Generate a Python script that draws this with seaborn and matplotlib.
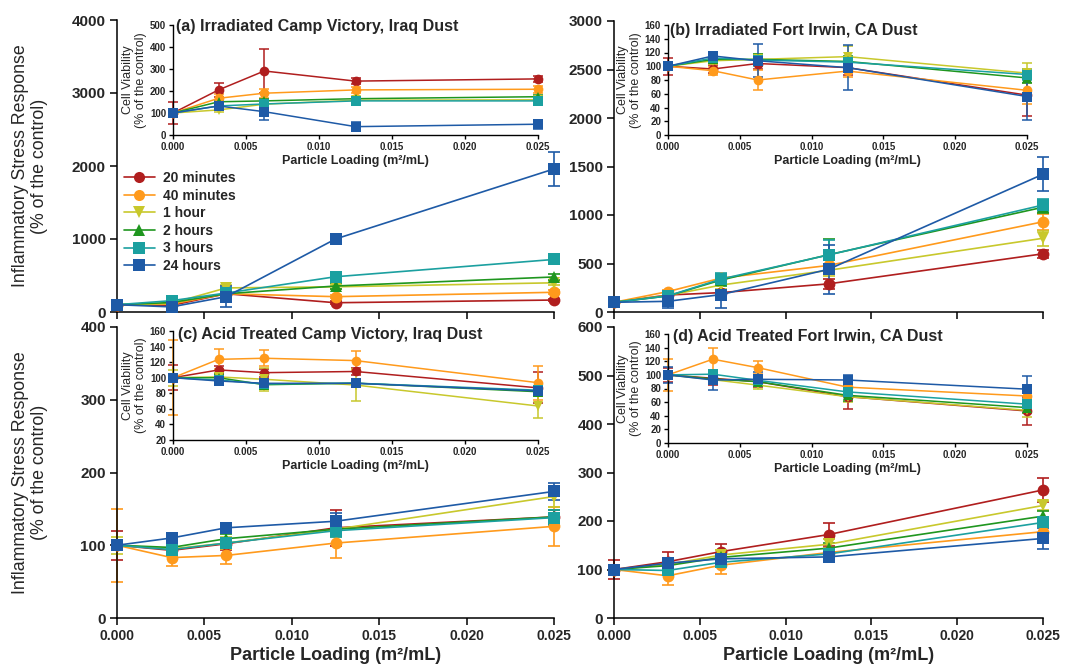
import numpy as np
import pandas as pd
import matplotlib
matplotlib.use("Agg")
import matplotlib.pyplot as plt
from matplotlib.lines import Line2D
import seaborn as sns

sns.set_style("ticks")
plt.rcParams['font.family'] = ['Liberation Sans', 'DejaVu Sans']

# ---------------- data ----------------
LOADING = [0.0, 0.003125, 0.00625, 0.0125, 0.025]
SERIES = ["20 minutes", "40 minutes", "1 hour", "2 hours", "3 hours", "24 hours"]
COLORS = ["#B01E1E", "#FF9A1C", "#C8C82C", "#1F961F", "#1BA0A0", "#1E5AA6"]
MARKERS = ["o", "o", "v", "^", "s", "s"]

# (a) Irradiated Camp Victory - inflammatory stress response
A_MAIN = {
    "20 minutes": [100, 90, 250, 127, 164],
    "40 minutes": [100, 110, 250, 210, 270],
    "1 hour":     [100, 120, 330, 345, 400],
    "2 hours":    [100, 130, 250, 356, 480],
    "3 hours":    [100, 155, 260, 483, 720],
    "24 hours":   [100, 70, 210, 1000, 1960],
}
A_MAIN_ERR = {
    "20 minutes": [20, 15, 30, 20, 20],
    "40 minutes": [20, 15, 30, 25, 25],
    "1 hour":     [20, 15, 40, 30, 30],
    "2 hours":    [20, 20, 30, 40, 35],
    "3 hours":    [20, 25, 40, 70, 50],
    "24 hours":   [20, 30, 140, 50, 230],
}
A_INSET = {
    "20 minutes": [100, 205, 291, 245, 255],
    "40 minutes": [100, 167, 190, 205, 208],
    "1 hour":     [100, 114, 140, 158, 160],
    "2 hours":    [100, 151, 155, 165, 174],
    "3 hours":    [100, 132, 141, 155, 155],
    "24 hours":   [100, 132, 106, 38, 49],
}
A_INSET_ERR = {
    "20 minutes": [50, 30, 100, 15, 15],
    "40 minutes": [10, 20, 20, 15, 15],
    "1 hour":     [10, 10, 15, 10, 10],
    "2 hours":    [10, 10, 10, 10, 10],
    "3 hours":    [10, 10, 10, 10, 10],
    "24 hours":   [10, 10, 37, 20, 20],
}

# (b) Irradiated Fort Irwin
B_MAIN = {
    "20 minutes": [100, 175, 200, 290, 600],
    "40 minutes": [100, 210, 350, 480, 930],
    "1 hour":     [100, 170, 278, 430, 760],
    "2 hours":    [100, 165, 330, 590, 1080],
    "3 hours":    [100, 165, 340, 588, 1103],
    "24 hours":   [100, 110, 180, 440, 1420],
}
B_MAIN_ERR = {
    "20 minutes": [15, 20, 30, 50, 40],
    "40 minutes": [15, 20, 40, 60, 80],
    "1 hour":     [15, 20, 40, 60, 80],
    "2 hours":    [15, 20, 60, 160, 60],
    "3 hours":    [15, 20, 60, 150, 60],
    "24 hours":   [15, 70, 140, 250, 175],
}
B_INSET = {
    "20 minutes": [100, 96, 104, 98, 58],
    "40 minutes": [100, 93.5, 80, 93, 65],
    "1 hour":     [100, 108, 110, 114, 90],
    "2 hours":    [100, 110, 110, 107, 83],
    "3 hours":    [100, 112, 109, 106, 88],
    "24 hours":   [100, 115, 108, 98, 56],
}
B_INSET_ERR = {
    "20 minutes": [12, 6, 8, 10, 30],
    "40 minutes": [5, 6, 15, 8, 20],
    "1 hour":     [5, 5, 8, 15, 15],
    "2 hours":    [5, 5, 8, 8, 8],
    "3 hours":    [5, 5, 8, 8, 8],
    "24 hours":   [5, 5, 24, 33, 34],
}

# (c) Acid Treated Camp Victory
C_MAIN = {
    "20 minutes": [100, 93, 102, 124, 139],
    "40 minutes": [100, 83, 86, 103, 126],
    "1 hour":     [100, 95, 103, 122, 167],
    "2 hours":    [100, 97, 109, 122, 139],
    "3 hours":    [100, 94, 103, 120, 138],
    "24 hours":   [100, 110, 124, 133, 174],
}
C_MAIN_ERR = {
    "20 minutes": [20, 8, 8, 25, 10],
    "40 minutes": [50, 12, 12, 20, 27],
    "1 hour":     [12, 6, 8, 10, 15],
    "2 hours":    [5, 5, 6, 8, 10],
    "3 hours":    [5, 5, 6, 8, 10],
    "24 hours":   [5, 6, 7, 12, 12],
}
C_INSET = {
    "20 minutes": [100, 110, 106.5, 108, 87],
    "40 minutes": [100, 123.6, 125, 122, 93.6],
    "1 hour":     [100, 101, 98, 90.6, 63.7],
    "2 hours":    [100, 100, 91, 93, 82],
    "3 hours":    [100, 97, 92, 93, 84],
    "24 hours":   [100, 95.8, 92.8, 92.8, 83],
}
C_INSET_ERR = {
    "20 minutes": [16, 5, 5, 5, 20],
    "40 minutes": [48, 13, 10, 12, 22],
    "1 hour":     [10, 5, 15, 20, 15],
    "2 hours":    [5, 5, 5, 5, 5],
    "3 hours":    [5, 5, 5, 5, 5],
    "24 hours":   [5, 5, 5, 5, 5],
}

# (d) Acid Treated Fort Irwin
D_MAIN = {
    "20 minutes": [100, 116, 137, 172, 264],
    "40 minutes": [100, 87, 109, 135, 178],
    "1 hour":     [100, 110, 130, 152, 232],
    "2 hours":    [100, 108, 125, 144, 210],
    "3 hours":    [100, 98, 115, 132, 197],
    "24 hours":   [100, 113, 122, 126, 164],
}
D_MAIN_ERR = {
    "20 minutes": [20, 20, 15, 23, 25],
    "40 minutes": [10, 18, 18, 10, 10],
    "1 hour":     [10, 10, 10, 10, 10],
    "2 hours":    [10, 10, 10, 10, 10],
    "3 hours":    [10, 10, 10, 10, 10],
    "24 hours":   [10, 10, 10, 10, 22],
}
D_INSET = {
    "20 minutes": [100, 95, 90, 68, 47],
    "40 minutes": [100, 123, 110.6, 82, 69],
    "1 hour":     [100, 93, 85, 68, 48],
    "2 hours":    [100, 94, 90, 70, 52],
    "3 hours":    [100, 101, 92, 75, 57],
    "24 hours":   [100, 92.5, 93.5, 92.5, 79],
}
D_INSET_ERR = {
    "20 minutes": [10, 10, 8, 18, 20],
    "40 minutes": [24, 16, 10, 10, 10],
    "1 hour":     [5, 5, 5, 8, 10],
    "2 hours":    [5, 5, 5, 8, 8],
    "3 hours":    [5, 5, 5, 8, 8],
    "24 hours":   [12, 15, 10, 8, 20],
}

TITLES = ["(a) Irradiated Camp Victory, Iraq Dust",
          "(b) Irradiated Fort Irwin, CA Dust",
          "(c) Acid Treated Camp Victory, Iraq Dust",
          "(d) Acid Treated Fort Irwin, CA Dust"]
XTICKS = [0.0, 0.005, 0.010, 0.015, 0.020, 0.025]
XLABEL = "Particle Loading (m²/mL)"
YLABEL_MAIN = "Inflammatory Stress Response\n(% of the control)"
YLABEL_INSET = "Cell Viability\n(% of the control)"
MAIN_YTICKS = [np.arange(0, 4001, 1000), np.arange(0, 3001, 500),
               np.arange(0, 401, 100), np.arange(0, 601, 100)]
INSET_YTICKS = [np.arange(0, 501, 100), np.arange(0, 161, 20),
                np.arange(20, 161, 20), np.arange(0, 161, 20)]

PALETTE = dict(zip(SERIES, COLORS))
MARKER_MAP = dict(zip(SERIES, MARKERS))

W, H = 1072, 667
fig = plt.figure(figsize=(W / 100, H / 100), dpi=100)


def px(l, t, r, b):
    return [l / W, 1 - b / H, (r - l) / W, (b - t) / H]


MAIN_POS = [px(117, 20, 554, 312), px(614, 21, 1043, 312),
            px(117, 327, 554, 618), px(614, 327, 1043, 618)]
INSET_POS = [px(173, 25, 538, 135), px(668, 25, 1027, 135),
             px(173, 331, 538, 440), px(668, 334, 1027, 443)]
TITLE_POS = [(176, 27), (670, 30), (178, 335), (673, 336)]


def draw(ax, vals, errs, ms, lw, cap):
    rows = []
    for s in SERIES:
        for x, y in zip(LOADING, vals[s]):
            rows.append({"loading": x, "value": y, "series": s})
    df = pd.DataFrame(rows)
    for s in SERIES:
        ax.errorbar(LOADING, vals[s], yerr=errs[s], fmt="none",
                    ecolor=PALETTE[s], elinewidth=lw, capsize=cap,
                    capthick=lw, clip_on=False, zorder=2)
    sns.lineplot(data=df, x="loading", y="value", hue="series", style="series",
                 hue_order=SERIES, style_order=SERIES, palette=PALETTE,
                 markers=MARKER_MAP, dashes=False, markersize=ms,
                 markeredgewidth=0, linewidth=lw, legend=False,
                 clip_on=False, ax=ax, zorder=3)
    ax.set_xlabel("")
    ax.set_ylabel("")


def style_spines(ax, lw):
    sns.despine(ax=ax)
    for sp in ["left", "bottom"]:
        ax.spines[sp].set_color("black")
        ax.spines[sp].set_linewidth(lw)


main_data = [(A_MAIN, A_MAIN_ERR), (B_MAIN, B_MAIN_ERR),
             (C_MAIN, C_MAIN_ERR), (D_MAIN, D_MAIN_ERR)]
inset_data = [(A_INSET, A_INSET_ERR), (B_INSET, B_INSET_ERR),
              (C_INSET, C_INSET_ERR), (D_INSET, D_INSET_ERR)]

for i in range(4):
    ax = fig.add_axes(MAIN_POS[i])
    ax.set_facecolor("none")
    draw(ax, main_data[i][0], main_data[i][1], ms=8.5, lw=1.2, cap=4.5)
    ax.set_xlim(0, 0.025)
    yt = MAIN_YTICKS[i]
    ax.set_ylim(yt[0], yt[-1])
    ax.set_yticks(yt)
    ax.set_yticklabels([str(int(v)) for v in yt], fontsize=11, fontweight="bold")
    ax.set_xticks(XTICKS)
    if i >= 2:
        ax.set_xticklabels([f"{v:.3f}" for v in XTICKS], fontsize=10,
                           fontweight="bold")
        ax.set_xlabel(XLABEL, fontsize=13, fontweight="bold", labelpad=3)
    else:
        ax.set_xticklabels([])
    ax.tick_params(axis="both", direction="out", length=5, width=1.1,
                   color="black", pad=3)
    style_spines(ax, 1.1)

    if i == 0:
        handles = [Line2D([], [], color=c, marker=m, markersize=8, lw=1.2,
                          markeredgewidth=0) for c, m in zip(COLORS, MARKERS)]
        ax.legend(handles, SERIES, loc="upper left",
                  bbox_to_anchor=(124 / W, 1 - 171 / H),
                  bbox_transform=fig.transFigure, frameon=False,
                  borderpad=0, borderaxespad=0, handlelength=2.2,
                  handletextpad=0.6, labelspacing=0.26,
                  prop=dict(weight="bold", size=10))

    ins = fig.add_axes(INSET_POS[i])
    ins.set_facecolor("none")
    draw(ins, inset_data[i][0], inset_data[i][1], ms=7, lw=1.1, cap=3.5)
    ins.set_xlim(0, 0.025)
    it = INSET_YTICKS[i]
    ins.set_ylim(it[0], it[-1])
    ins.set_yticks(it)
    ins.set_yticklabels([str(int(v)) for v in it], fontsize=7, fontweight="bold")
    ins.set_xticks(XTICKS)
    ins.set_xticklabels([f"{v:.3f}" for v in XTICKS], fontsize=7,
                        fontweight="bold")
    ins.tick_params(axis="both", direction="out", length=3, width=1.0,
                    color="black", pad=2)
    ins.set_xlabel(XLABEL, fontsize=9, fontweight="bold", labelpad=2)
    ins.set_ylabel(YLABEL_INSET, fontsize=9, labelpad=2, linespacing=1.1)
    style_spines(ins, 1.0)

    tx, ty = TITLE_POS[i]
    fig.text(tx / W, 1 - ty / H, TITLES[i], fontsize=11.5, fontweight="bold",
             ha="left", va="center")

for yc in [166, 472.5]:
    fig.text(30 / W, 1 - yc / H, YLABEL_MAIN, rotation=90, ha="center",
             va="center", fontsize=12.8, multialignment="center",
             linespacing=1.2)

fig.savefig("out.png", dpi=100)
